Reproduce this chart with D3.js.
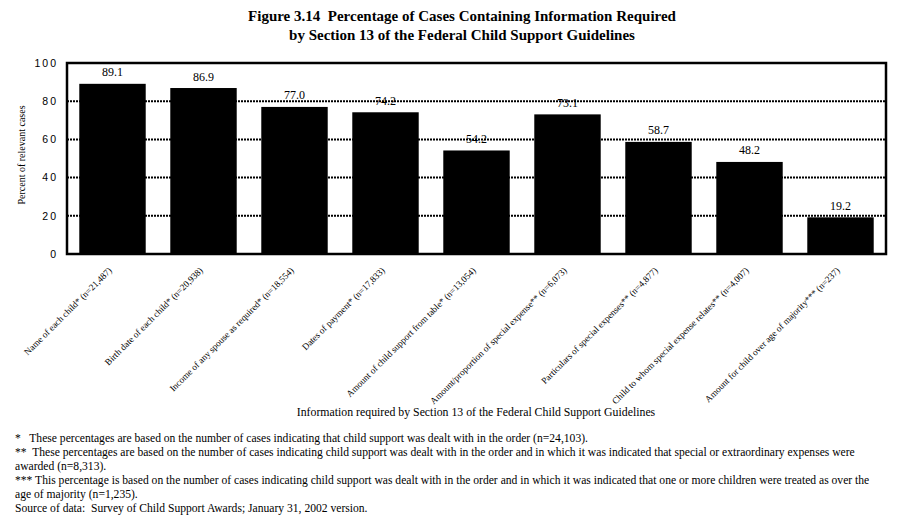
<!DOCTYPE html>
<html>
<head>
<meta charset="utf-8">
<script src="https://cdn.jsdelivr.net/npm/d3@7"></script>
<style>
  body { margin: 0; background: #fff; }
  text { font-family: "Liberation Serif", "Times New Roman", serif; fill: #000; }
</style>
</head>
<body>
<div id="chart"></div>
<script>
var categories = [
  "Name of each child* (n=21,487)",
  "Birth date of each child* (n=20,938)",
  "Income of any spouse as required* (n=18,554)",
  "Dates of payment* (n=17,833)",
  "Amount of child support from table* (n=13,054)",
  "Amount/proportion of special expense** (n=6,073)",
  "Particulars of special expenses** (n=4,877)",
  "Child to whom special expense relates** (n=4,007)",
  "Amount for child over age of majority*** (n=237)"
];
var values = [89.1, 86.9, 77.0, 74.2, 54.2, 73.1, 58.7, 48.2, 19.2];
var yTicks = [0, 20, 40, 60, 80, 100];

var titleLines = [
  "Figure 3.14  Percentage of Cases Containing Information Required",
  "by Section 13 of the Federal Child Support Guidelines"
];
var footnotes = [
  "*   These percentages are based on the number of cases indicating that child support was dealt with in the order (n=24,103).",
  "**  These percentages are based on the number of cases indicating child support was dealt with in the order and in which it was indicated that special or extraordinary expenses were",
  "awarded (n=8,313).",
  "*** This percentage is based on the number of cases indicating child support was dealt with in the order and in which it was indicated that one or more children were treated as over the",
  "age of majority (n=1,235).",
  "Source of data:  Survey of Child Support Awards; January 31, 2002 version."
];

(function() {
var width = 898,
    height = 529;

var svg = d3.select("#chart")
  .append("svg")
  .attr("width", width)
  .attr("height", height);

var mLeft = 67, mRight = 886, mTop = 63, mBottom = 254;
var serif = "'Liberation Serif', 'Times New Roman', serif";

var x = d3.scaleBand()
  .domain(categories)
  .range([mLeft, mRight])
  .paddingInner(0.27)
  .paddingOuter(0.135);

var y = d3.scaleLinear()
  .domain([0, 100])
  .range([mBottom, mTop]);

// title
svg.selectAll(".title")
  .data(titleLines)
  .enter().append("text")
  .attr("class", "title")
  .attr("x", 462)
  .attr("y", function(d, i) { return 21 + i * 19; })
  .attr("text-anchor", "middle")
  .style("font-family", serif)
  .style("font-size", "15px")
  .style("font-weight", "bold")
  .style("white-space", "pre")
  .text(function(d) { return d; });

// dotted grid lines (under the bars)
svg.selectAll(".grid")
  .data(yTicks.filter(function(d) { return d > 0 && d < 100; }))
  .enter().append("line")
  .attr("class", "grid")
  .attr("x1", mLeft)
  .attr("x2", mRight)
  .attr("y1", function(d) { return y(d); })
  .attr("y2", function(d) { return y(d); })
  .attr("stroke", "#000")
  .attr("stroke-width", 2)
  .attr("stroke-dasharray", "2,1");

// bars
svg.selectAll(".bar")
  .data(values)
  .enter().append("rect")
  .attr("class", "bar")
  .attr("x", function(d, i) { return x(categories[i]); })
  .attr("y", function(d) { return y(d); })
  .attr("width", x.bandwidth())
  .attr("height", function(d) { return y(0) - y(d); })
  .attr("fill", "#000");

// value labels
svg.selectAll(".val")
  .data(values)
  .enter().append("text")
  .attr("class", "val")
  .attr("x", function(d, i) { return x(categories[i]) + x.bandwidth() / 2; })
  .attr("y", function(d) { return y(d) - 7.5; })
  .attr("text-anchor", "middle")
  .style("font-family", serif)
  .style("font-size", "12px")
  .text(function(d) { return d.toFixed(1); });

// frame
svg.append("rect")
  .attr("x", mLeft)
  .attr("y", mTop)
  .attr("width", mRight - mLeft)
  .attr("height", mBottom - mTop)
  .attr("fill", "none")
  .attr("stroke", "#000")
  .attr("stroke-width", 2.5);

// y axis
var yAxis = svg.append("g")
  .attr("transform", "translate(" + mLeft + ",0)")
  .call(d3.axisLeft(y).tickValues(yTicks).tickSize(0).tickPadding(9));
yAxis.select(".domain").remove();
yAxis.selectAll("text")
  .style("font-family", "'Liberation Sans', Arial, sans-serif")
  .style("font-size", "10.5px")
  .style("letter-spacing", "2px");

svg.append("text")
  .attr("transform", "translate(25,155) rotate(-90)")
  .attr("text-anchor", "middle")
  .style("font-family", serif)
  .style("font-size", "10px")
  .text("Percent of relevant cases");

// x axis labels, rotated
var xAxis = svg.append("g")
  .attr("transform", "translate(0," + mBottom + ")")
  .call(d3.axisBottom(x).tickSize(0).tickPadding(0));
xAxis.select(".domain").remove();
xAxis.selectAll("text")
  .attr("y", 0)
  .attr("dy", 0)
  .attr("text-anchor", "end")
  .attr("transform", "translate(0,17) rotate(-45)")
  .style("font-family", serif)
  .style("font-size", "9.2px");

svg.append("text")
  .attr("x", 476)
  .attr("y", 416)
  .attr("text-anchor", "middle")
  .style("font-family", serif)
  .style("font-size", "11.8px")
  .text("Information required by Section 13 of the Federal Child Support Guidelines");

// footnotes
svg.selectAll(".note")
  .data(footnotes)
  .enter().append("text")
  .attr("class", "note")
  .attr("x", 15)
  .attr("y", function(d, i) { return 442 + i * 14; })
  .style("font-family", serif)
  .style("font-size", "11.6px")
  .style("white-space", "pre")
  .text(function(d) { return d; });
})();
</script>
</body>
</html>
